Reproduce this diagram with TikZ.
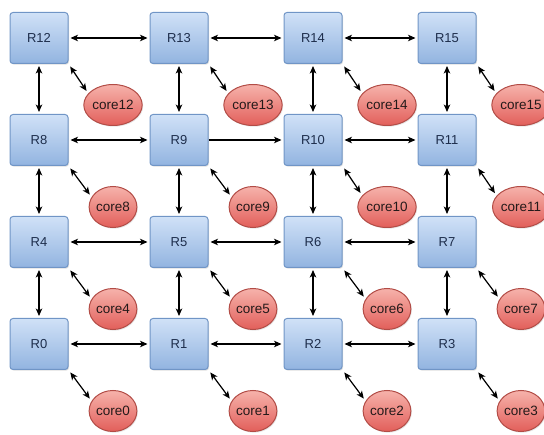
\documentclass[tikz,border=0pt]{standalone}
\usepackage{fontspec}
\setmainfont{Liberation Sans}
\usetikzlibrary{arrows.meta,shapes.geometric,shadows,shadings}

\definecolor{boxtop}{HTML}{D0E1F7}
\definecolor{boxbot}{HTML}{92B4E0}
\definecolor{boxline}{HTML}{7095C6}
\definecolor{boxtext}{HTML}{1E2E4C}
\definecolor{coretop}{HTML}{F6B2AB}
\definecolor{corebot}{HTML}{E25F5A}
\definecolor{coreline}{HTML}{B24C46}
\definecolor{coretext}{HTML}{241A1A}

\tikzset{
  router/.style={rectangle, rounded corners=3pt, minimum width=58pt,
    minimum height=51pt, draw=boxline, line width=1pt,
    top color=boxtop, bottom color=boxbot, text=boxtext,
    font=\fontsize{13}{15}\selectfont,
    drop shadow={opacity=0.25, shadow xshift=1pt, shadow yshift=-1.2pt}},
  core/.style={ellipse, minimum width=47pt, minimum height=41pt,
    inner sep=0pt, draw=coreline, line width=1pt,
    top color=coretop, bottom color=corebot, text=coretext,
    font=\fontsize{13.5}{15}\selectfont,
    drop shadow={opacity=0.2, shadow xshift=1pt, shadow yshift=-1.2pt}},
  tip/.tip={Stealth[length=7.5pt,width=6.5pt,inset=2pt]},
  link/.style={line width=1.2pt, tip-tip, shorten >=2pt, shorten <=2pt},
  onelink/.style={line width=1.2pt, -tip, shorten >=2pt},
  tap/.style={line width=1.2pt, tip-tip, shorten >=3pt, shorten <=3pt}
}

\begin{document}
\begin{tikzpicture}[x=1pt,y=-1pt]
  \useasboundingbox (0,0) rectangle (544,435);

  % routers and their attached cores
  \foreach \i/\x/\y in {12/39/38, 13/179/38, 14/313/38, 15/447/38,
                        8/39/140,  9/179/140, 10/313/140, 11/447/140,
                        4/39/242,  5/179/242,  6/313/242,  7/447/242,
                        0/39/344,  1/179/344,  2/313/344,  3/447/344}{
    \node[router] (R\i) at (\x,\y) {R\i};
    \node[core] (core\i) at (\x+74,\y+67) {core\i};
  }

  % horizontal links
  \draw[link] (R12) -- (R13);
  \draw[link] (R13) -- (R14);
  \draw[link] (R14) -- (R15);
  \draw[link] (R8) -- (R9);
  \draw[onelink] (R9) -- (R10);
  \draw[link] (R10) -- (R11);
  \draw[link] (R4) -- (R5);
  \draw[link] (R5) -- (R6);
  \draw[link] (R6) -- (R7);
  \draw[link] (R0) -- (R1);
  \draw[link] (R1) -- (R2);
  \draw[link] (R2) -- (R3);

  % vertical links
  \foreach \a/\b in {12/8, 8/4, 4/0, 13/9, 9/5, 5/1,
                     14/10, 10/6, 6/2, 15/11, 11/7, 7/3}{
    \draw[link] (R\a) -- (R\b);
  }

  % router to core links
  \foreach \i in {0,...,15}{
    \draw[tap] (R\i.south east) -- (core\i.155);
  }
\end{tikzpicture}
\end{document}
